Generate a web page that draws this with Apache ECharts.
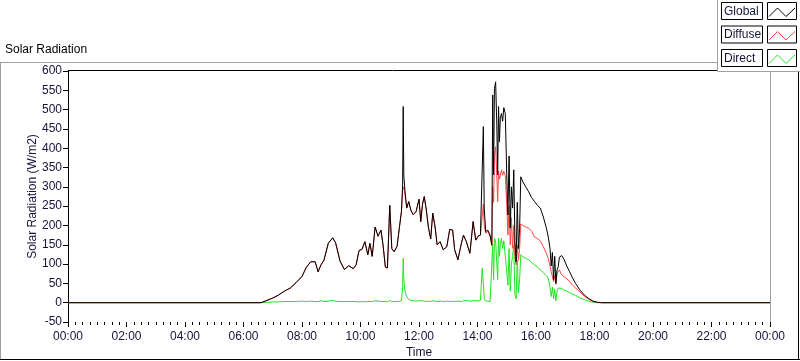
<!doctype html>
<html>
<head>
    <meta charset="utf-8"/>
    <title>Solar Radiation</title>
    <script src="https://cdn.jsdelivr.net/npm/echarts@6/dist/echarts.min.js"></script>
    <style>
        html, body { margin: 0; padding: 0; background: #fff; }
        #chart { width: 800px; height: 361px; }
    </style>
</head>
<body>
<div id="chart"></div>
<script>
    // time of day in hours
    var hours = [
        0, 6.6, 6.8, 7.0, 7.2, 7.4, 7.6, 7.8, 8.0, 8.15,
        8.3, 8.45, 8.55, 8.65, 8.75, 8.9, 9.05, 9.15, 9.3, 9.45,
        9.6, 9.75, 9.85, 9.95, 10.05, 10.15, 10.25, 10.32, 10.4, 10.5,
        10.6, 10.7, 10.77, 10.85, 10.92, 11.0, 11.07, 11.15, 11.25, 11.33,
        11.4, 11.44, 11.46, 11.48, 11.52, 11.58, 11.65, 11.72, 11.8, 11.9,
        12.0, 12.06, 12.12, 12.18, 12.25, 12.32, 12.4, 12.47, 12.55, 12.62,
        12.72, 12.83, 12.95, 13.05, 13.15, 13.22, 13.33, 13.45, 13.52, 13.62,
        13.74, 13.85, 13.94, 14.02, 14.1, 14.16, 14.2, 14.23, 14.28, 14.35,
        14.43, 14.49, 14.52, 14.55, 14.58, 14.62, 14.66, 14.69, 14.72, 14.75,
        14.78, 14.82, 14.86, 14.9, 14.95, 15.0, 15.04, 15.08, 15.12, 15.16,
        15.2, 15.24, 15.28, 15.32, 15.36, 15.4, 15.44, 15.48, 15.55, 15.65,
        15.75, 15.85, 15.95, 16.05, 16.15, 16.25, 16.35, 16.42, 16.48, 16.52,
        16.56, 16.6, 16.64, 16.68, 16.72, 16.76, 16.8, 16.88, 16.96, 17.05,
        17.15, 17.25, 17.35, 17.5, 17.65, 17.8, 17.95, 18.1, 18.25, 24
    ];
    var globalVals = [
        0, 0, 6, 12, 20, 30, 38, 52, 68, 92,
        106, 106, 80, 98, 110, 154, 168, 155, 108, 86,
        96, 88, 98, 135, 138, 158, 124, 154, 120, 196,
        172, 188, 150, 92, 90, 252, 140, 132, 146, 195,
        236, 305, 508, 330, 290, 245, 262, 240, 228, 236,
        268, 210, 255, 275, 240, 196, 165, 232, 196, 150,
        158, 137, 145, 190, 188, 137, 111, 154, 175, 158,
        128, 210, 162, 172, 175, 180, 456, 245, 184, 188,
        175, 150, 538, 331, 555, 572, 460, 331, 508, 417,
        478, 490, 470, 505, 490, 331, 227, 380, 193, 300,
        245, 344, 158, 106, 260, 140, 193, 326, 313, 300,
        287, 272, 262, 252, 245, 222, 195, 170, 140, 95,
        130, 60, 120, 50, 85, 93, 118, 122, 112, 95,
        80, 64, 50, 33, 20, 11, 4, 1, 0, 0
    ];
    var diffuseVals = [
        0, 0, 6, 12, 20, 30, 38, 52, 68, 92,
        106, 106, 80, 98, 110, 154, 168, 155, 108, 86,
        96, 88, 98, 135, 138, 158, 124, 154, 120, 196,
        172, 188, 150, 92, 90, 252, 140, 132, 146, 195,
        236, 290, 290, 300, 280, 245, 262, 240, 228, 236,
        268, 210, 255, 275, 240, 196, 165, 232, 196, 150,
        158, 137, 145, 190, 188, 137, 111, 154, 175, 158,
        128, 210, 162, 172, 175, 175, 255, 200, 180, 185,
        172, 148, 300, 260, 380, 404, 330, 262, 340, 320,
        330, 344, 330, 340, 330, 253, 175, 250, 150, 220,
        141, 200, 120, 98, 150, 110, 140, 204, 200, 196,
        193, 185, 170, 166, 160, 145, 128, 115, 95, 80,
        85, 55, 70, 48, 75, 80, 85, 72, 67, 62,
        55, 45, 38, 28, 17, 9, 3, 1, 0, 0
    ];
    var directVals = [
        0, 0, 1, 2, 2, 3, 3, 3, 4, 3,
        4, 3, 3, 5, 3, 4, 6, 4, 3, 3,
        3, 3, 3, 2, 3, 2, 3, 3, 3, 5,
        4, 3, 3, 3, 2, 6, 3, 3, 3, 4,
        5, 40, 115, 60, 30, 15, 8, 6, 5, 4,
        5, 3, 5, 4, 3, 4, 3, 5, 4, 3,
        4, 3, 4, 3, 4, 3, 4, 3, 5, 6,
        4, 5, 6, 4, 6, 89, 50, 10, 4, 4,
        3, 4, 150, 60, 167, 160, 100, 60, 167, 120,
        150, 167, 140, 160, 155, 80, 45, 140, 30, 100,
        120, 150, 20, 10, 110, 25, 60, 124, 119, 115,
        111, 104, 98, 92, 85, 78, 70, 63, 40, 16,
        40, 10, 35, 5, 30, 38, 41, 37, 33, 30,
        26, 22, 19, 13, 8, 4, 1, 0, 0, 0
    ];
    var seriesNames = ["Global", "Diffuse", "Direct"];
    var seriesColors = ["#000000", "#ff4646", "#1ee61e"];

    var font = "Liberation Sans";
    var labelColor = "#14143a";

    function pairs(vals) {
        return hours.map(function (h, i) { return [h, vals[i]]; });
    }

    // legend boxes, LabVIEW style
    var legendGfx = [
        { type: "rect", shape: { x: 717.5, y: -2, width: 90, height: 73.5 },
          style: { fill: "#fff", stroke: "#a0a0a0", lineWidth: 1 }, z: 10 }
    ];
    seriesNames.forEach(function (name, i) {
        var y0 = 2.5 + i * 23.5;
        legendGfx.push({ type: "rect", shape: { x: 721.5, y: y0, width: 41, height: 17 },
            style: { fill: "#fff", stroke: "#000", lineWidth: 1 }, z: 11 });
        legendGfx.push({ type: "text", x: 724, y: y0 + 9,
            style: { text: name, font: "12px '" + font + "'", fill: labelColor, verticalAlign: "middle" }, z: 12 });
        legendGfx.push({ type: "rect", shape: { x: 767.5, y: y0, width: 29, height: 17 },
            style: { fill: "#fff", stroke: "#000", lineWidth: 1 }, z: 11 });
        legendGfx.push({ type: "polyline",
            shape: { points: [[769, y0 + 14], [777.5, y0 + 5.5], [786, y0 + 14], [795, y0 + 5.5]] },
            style: { stroke: seriesColors[i], lineWidth: 1, fill: null }, z: 12 });
    });

    var frameGfx = [
        { type: "line", shape: { x1: 0, y1: 62.5, x2: 717, y2: 62.5 }, style: { stroke: "#a0a0a0", lineWidth: 1 } },
        { type: "line", shape: { x1: 0.5, y1: 62, x2: 0.5, y2: 360 }, style: { stroke: "#a0a0a0", lineWidth: 1 } },
        { type: "line", shape: { x1: 0, y1: 359.5, x2: 800, y2: 359.5 }, style: { stroke: "#000", lineWidth: 1 } },
        { type: "line", shape: { x1: 798.5, y1: 71, x2: 798.5, y2: 360 }, style: { stroke: "#000", lineWidth: 1 } },
        { type: "line", shape: { x1: 68, y1: 70.5, x2: 717, y2: 70.5 }, style: { stroke: "#000", lineWidth: 1 } },
        { type: "line", shape: { x1: 770.5, y1: 71, x2: 770.5, y2: 322 }, style: { stroke: "#a0a0a0", lineWidth: 1 } },
        { type: "text", x: 5, y: 50, style: { text: "Solar Radiation", font: "12px '" + font + "'", fill: "#000", verticalAlign: "middle" } }
    ];

    var chart = echarts.init(document.getElementById("chart"), null, { renderer: "canvas" });

    var option = {
        animation: false,
        backgroundColor: "#fff",
        textStyle: { fontFamily: font },
        grid: { left: 68, right: 30, top: 71, bottom: 39, containLabel: false, outerBoundsMode: "none" },
        xAxis: {
            type: "value",
            min: 0,
            max: 24,
            interval: 2,
            name: "Time",
            nameLocation: "middle",
            nameGap: 25,
            nameMoveOverlap: false,
            nameTextStyle: { color: labelColor, fontSize: 12 },
            axisLine: { show: false, onZero: false },
            axisTick: { show: true, length: 5, lineStyle: { color: "#000" } },
            minorTick: { show: true, splitNumber: 8, length: 3, lineStyle: { color: "#000" } },
            axisLabel: {
                color: labelColor, fontSize: 12, margin: 9,
                formatter: function (v) {
                    var h = v % 24;
                    return (h < 10 ? "0" : "") + h + ":00";
                }
            },
            splitLine: { show: false }
        },
        yAxis: {
            type: "value",
            min: -50,
            max: 600,
            interval: 50,
            name: "Solar Radiation (W/m2)",
            nameLocation: "middle",
            nameGap: 29,
            nameMoveOverlap: false,
            nameTextStyle: { color: labelColor, fontSize: 12 },
            axisLine: { show: true, onZero: false, lineStyle: { color: "#000" } },
            axisTick: { show: true, length: 5, lineStyle: { color: "#000" } },
            axisLabel: { color: labelColor, fontSize: 12, margin: 6 },
            splitLine: { show: false }
        },
        series: [
            { name: seriesNames[2], type: "line", data: pairs(directVals), showSymbol: false,
              lineStyle: { width: 1, color: seriesColors[2] }, z: 2 },
            { name: seriesNames[1], type: "line", data: pairs(diffuseVals), showSymbol: false,
              lineStyle: { width: 1, color: seriesColors[1] }, z: 3 },
            { name: seriesNames[0], type: "line", data: pairs(globalVals), showSymbol: false,
              lineStyle: { width: 1, color: seriesColors[0] }, z: 4 }
        ],
        graphic: frameGfx.concat(legendGfx)
    };
    chart.setOption(option);
</script>
</body>
</html>
